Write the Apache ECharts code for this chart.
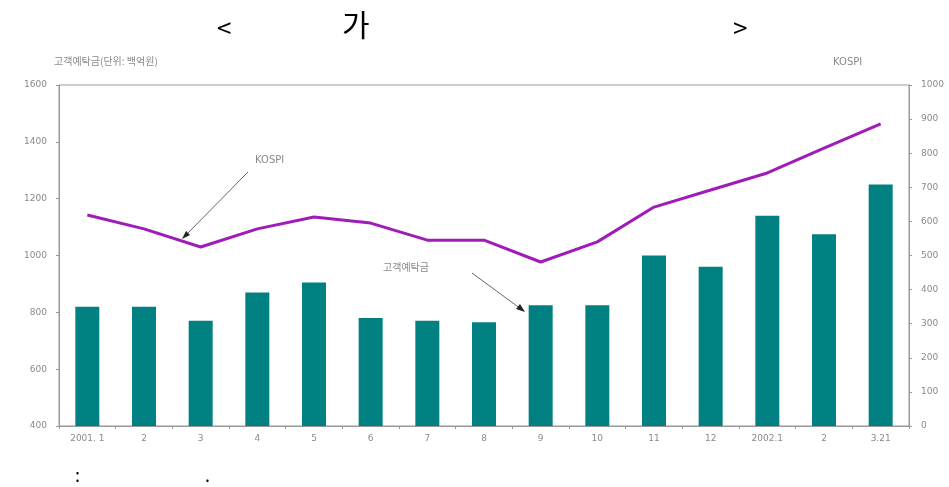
<!DOCTYPE html>
<html><head><meta charset="utf-8">
<script src="https://cdn.jsdelivr.net/npm/echarts@6/dist/echarts.min.js"></script>
<style>html,body{margin:0;padding:0;background:#fff}#c{width:949px;height:487px}</style>
</head><body><div id="c"></div>
<script>
const categories = ['2001. 1','2','3','4','5','6','7','8','9','10','11','12','2002.1','2','3.21'];
const deposits = [820, 820, 770, 870, 905, 780, 770, 765, 825, 825, 1000, 960, 1140, 1075, 1250];
const kospi = [619, 578, 525, 578, 613, 595, 545, 545, 481, 540, 642, 692, 742, 815, 886];
const leftTicks = {min: 400, max: 1600, interval: 200};
const rightTicks = {min: 0, max: 1000, interval: 100};

const chart = echarts.init(document.getElementById('c'));
const grayText = {color: '#8a8a8a', fontSize: 9, fontFamily: 'DejaVu Sans'};
const plain = v => String(v);
chart.setOption({
  animation: false,
  backgroundColor: '#fff',
  grid: {left: 59, right: 40, top: 85, bottom: 61, show: true, borderColor: '#999', borderWidth: 1},
  xAxis: {
    type: 'category', data: categories, boundaryGap: true,
    axisLine: {lineStyle: {color: '#999'}},
    axisTick: {show: true, alignWithLabel: false, length: 3, lineStyle: {color: '#999'}},
    axisLabel: Object.assign({margin: 8}, grayText)
  },
  yAxis: [
    Object.assign({type: 'value', position: 'left',
      axisLine: {show: true, lineStyle: {color: '#999'}},
      axisTick: {show: true, length: 3, lineStyle: {color: '#999'}},
      splitLine: {show: false},
      axisLabel: Object.assign({margin: 12, formatter: plain}, grayText)}, leftTicks),
    Object.assign({type: 'value', position: 'right',
      axisLine: {show: true, lineStyle: {color: '#999'}},
      axisTick: {show: true, length: 3, lineStyle: {color: '#999'}},
      splitLine: {show: false},
      axisLabel: Object.assign({margin: 12, formatter: plain}, grayText)}, rightTicks)
  ],
  series: [
    {name: '고객예탁금', type: 'bar', yAxisIndex: 0, data: deposits, barWidth: 24,
     itemStyle: {color: '#008080'}},
    {name: 'KOSPI', type: 'line', yAxisIndex: 1, data: kospi, symbol: 'none',
     lineStyle: {color: '#A01CB8', width: 3}, z: 5}
  ],
  graphic: [
    {type: 'text', left: 217, top: 15, style: {text: '<', fontSize: 26, fill: '#000', fontFamily: 'Noto Sans CJK KR'}},
    {type: 'text', left: 342, top: 10, style: {text: '가', fontSize: 30, fill: '#000', fontFamily: 'Noto Sans CJK KR'}},
    {type: 'text', left: 733, top: 15, style: {text: '>', fontSize: 26, fill: '#000', fontFamily: 'Noto Sans CJK KR'}},
    {type: 'text', left: 54, top: 56, style: {text: '고객예탁금(단위: 백억원)', fontSize: 10, fill: '#8a8a8a', fontFamily: 'Noto Sans CJK KR'}},
    {type: 'text', left: 833, top: 57, style: {text: 'KOSPI', fontSize: 10, fill: '#8a8a8a', fontFamily: 'DejaVu Sans'}},
    {type: 'text', left: 255, top: 155, style: {text: 'KOSPI', fontSize: 10, fill: '#8a8a8a', fontFamily: 'DejaVu Sans'}},
    {type: 'text', left: 383, top: 262, style: {text: '고객예탁금', fontSize: 10, fill: '#8a8a8a', fontFamily: 'Noto Sans CJK KR'}},
    {type: 'line', shape: {x1: 248, y1: 172, x2: 185, y2: 236}, style: {stroke: '#666', lineWidth: 1}},
    {type: 'polygon', shape: {points: [[182, 239], [186, 231], [190, 235]]}, style: {fill: '#222'}},
    {type: 'line', shape: {x1: 472, y1: 273, x2: 521, y2: 309}, style: {stroke: '#666', lineWidth: 1}},
    {type: 'polygon', shape: {points: [[525, 312], [516, 309], [520, 304]]}, style: {fill: '#222'}},
    {type: 'text', left: 75, top: 466, style: {text: ':', fontSize: 18, fill: '#000', fontFamily: 'Noto Sans CJK KR'}},
    {type: 'text', left: 205, top: 466, style: {text: '.', fontSize: 18, fill: '#000', fontFamily: 'Noto Sans CJK KR'}}
  ]
});
</script></body></html>
